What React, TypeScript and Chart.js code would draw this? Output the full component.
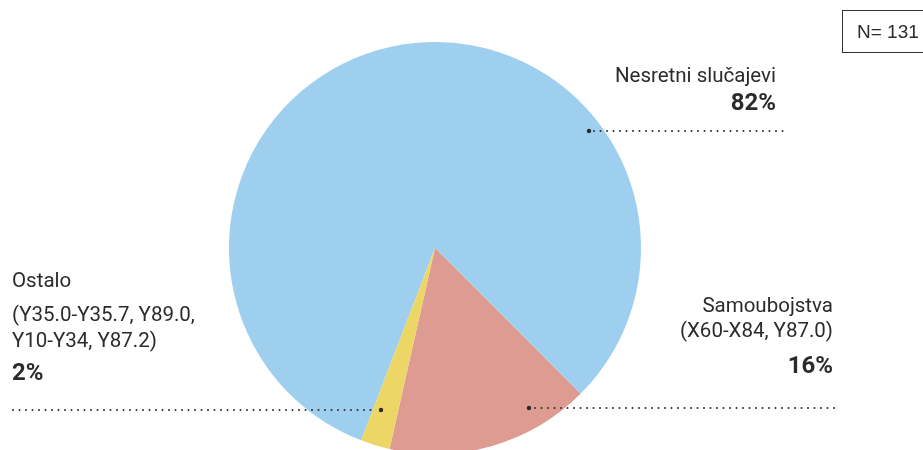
import React, { useEffect, useRef } from "react";
import { Chart, registerables } from "chart.js";

Chart.register(...registerables);

const categories = ["Nesretni slučajevi", "Samoubojstva", "Ostalo"];
const counts = [107, 21, 3];
const percentLabels = ["82%", "16%", "2%"];
const colors = ["#9ecfee", "#de9b91", "#ecd766"];
const totalLabel = "N= 131";

const labelPlugin = {
  id: "labels",
  afterDraw(chart: any) {
    const ctx = chart.ctx as CanvasRenderingContext2D;
    ctx.save();
    const reg = "20.5px Roboto, 'DejaVu Sans', sans-serif";
    const bold = "bold 24px Roboto, 'DejaVu Sans', sans-serif";
    ctx.fillStyle = "#2b2b2b";
    ctx.textBaseline = "alphabetic";

    const dotted = (x1: number, x2: number, y: number, dotX: number) => {
      ctx.fillStyle = "#2b2b2b";
      for (let x = x1; x <= x2; x += 6.5) {
        ctx.beginPath();
        ctx.arc(x, y, 1, 0, Math.PI * 2);
        ctx.fill();
      }
      ctx.beginPath();
      ctx.arc(dotX, y, 2.2, 0, Math.PI * 2);
      ctx.fill();
    };

    // Nesretni slučajevi
    ctx.textAlign = "right";
    ctx.font = reg;
    ctx.fillText(categories[0], 776, 82);
    ctx.font = bold;
    ctx.fillText(percentLabels[0], 776, 110);
    dotted(594, 785, 131, 589);

    // Samoubojstva
    ctx.font = reg;
    ctx.fillText(categories[1], 833, 312);
    ctx.fillText("(X60-X84, Y87.0)", 833, 337);
    ctx.font = bold;
    ctx.fillText(percentLabels[1], 833, 373);
    dotted(535, 835, 408, 529);

    // Ostalo
    ctx.textAlign = "left";
    ctx.font = reg;
    ctx.fillText(categories[2], 12, 287);
    ctx.fillText("(Y35.0-Y35.7, Y89.0,", 12, 321);
    ctx.fillText("Y10-Y34, Y87.2)", 12, 347);
    ctx.font = bold;
    ctx.fillText(percentLabels[2], 12, 380);
    dotted(13, 375, 410, 381);

    // N box
    ctx.strokeStyle = "#333";
    ctx.lineWidth = 1;
    ctx.strokeRect(842.5, 10.5, 100, 42);
    ctx.font = "19px 'Liberation Sans', Arial, sans-serif";
    ctx.fillStyle = "#2b2b2b";
    ctx.fillText(totalLabel, 857, 38);
    ctx.restore();
  },
};

export default function App() {
  const ref = useRef<HTMLCanvasElement>(null);
  useEffect(() => {
    const chart = new Chart(ref.current!, {
      type: "pie",
      data: {
        labels: categories,
        datasets: [
          {
            data: counts,
            backgroundColor: colors,
            borderWidth: 0,
          },
        ],
      },
      options: {
        responsive: false,
        animation: false,
        rotation: -159,
        layout: { padding: { left: 229, right: 282, top: 42, bottom: 6 } },
        plugins: {
          legend: { display: false },
          tooltip: { enabled: false },
        },
      },
      plugins: [labelPlugin],
    });
    return () => chart.destroy();
  }, []);
  return (
    <div style={{ position: "fixed", left: 0, top: 0, width: 923, height: 460, overflow: "hidden", background: "#fff" }}>
      <canvas ref={ref} width={923} height={460} style={{ width: 923, height: 460 }} />
    </div>
  );
}
